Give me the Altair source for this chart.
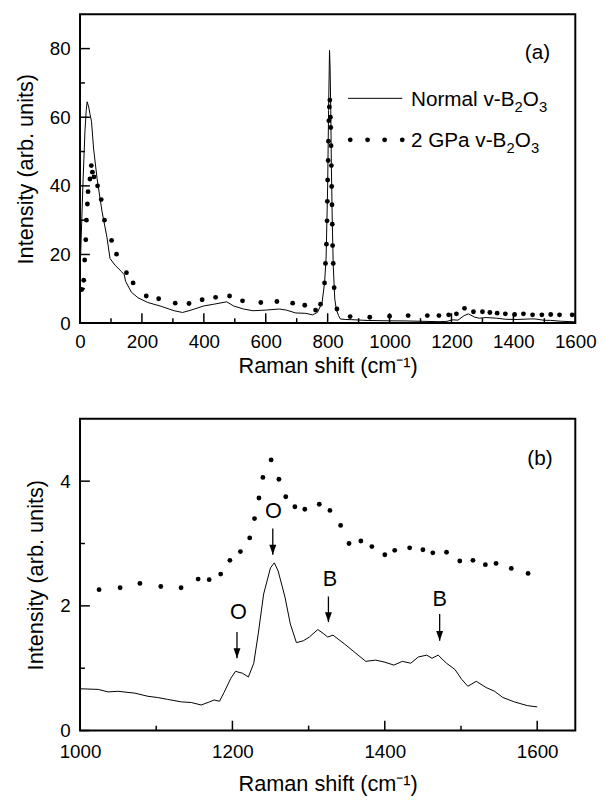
import altair as alt
import pandas as pd

FONT = "Liberation Sans"

# ---------------- Panel (a) data ----------------
a_normal_x = [2, 10, 16, 20, 23, 28, 32, 37, 44, 55, 71, 87, 97, 113, 134, 143, 147, 166, 187, 219,
              262, 304, 331, 352, 400, 432, 474, 496, 528, 559, 602, 644, 666, 697, 729, 751, 767, 782, 790, 795,
              800, 803, 806, 808, 810, 812, 815, 818, 823, 828, 835, 841, 857, 878, 931, 1000, 1050, 1100, 1160, 1185,
              1204, 1221, 1241, 1255, 1275, 1290, 1312, 1345, 1375, 1412, 1455, 1470, 1500, 1520, 1555, 1600]
a_normal_y = [20, 42, 56, 62, 64.5, 63, 61, 58.8, 50.7, 42.2, 32.6, 25, 18.8, 16.9, 15, 14.1, 12.2, 9.0, 7.4, 6.0,
              4.9, 3.6, 3.1, 3.6, 5.0, 5.5, 6.2, 5.0, 4.1, 3.6, 3.8, 4.1, 3.8, 2.95, 2.85, 2.4, 3.1, 6.0, 11.7, 19.3,
              40, 62, 79.5, 74, 62, 46, 29, 17, 7, 4, 2.2, 1.2, 1.05, 1.0, 0.76, 0.67, 0.63, 0.53, 0.42, 0.5,
              0.95, 0.86, 2.19, 2.69, 1.71, 1.43, 1.62, 1.44, 1.11, 1.05, 1.21, 1.21, 0.82, 0.79, 0.53, 0.38]

a_gpa_x = [5.7, 12, 15, 18.5, 20.6, 23.8, 25.9, 32, 36.5, 40, 45, 56.7, 68.5, 79, 102,
           118, 150, 171.5, 214, 254, 307.5, 352, 394.5, 438, 483, 525, 584, 636, 687, 726,
           761, 777, 790, 793, 796, 798, 799, 800, 801.5, 802.5, 804, 805.5, 807, 809, 810,
           811, 812, 813, 814, 815, 816, 818, 821, 830, 872.6, 936, 1000, 1060, 1122, 1159.5,
           1191, 1216, 1242, 1271, 1300, 1324, 1347.5, 1374, 1404, 1432.5, 1462, 1492, 1520.6, 1549, 1590]
a_gpa_y = [9.8, 12.5, 18.4, 24.3, 30, 34.7, 38.3, 42, 45.9, 44, 42.6, 40, 36, 30, 24.1,
           20.1, 14.7, 11.7, 7.9, 7.1, 5.8, 5.7, 6.8, 7.5, 7.9, 6.5, 6.0, 6.3, 5.8, 5.2,
           3.8, 5.5, 11.7, 17.4, 23, 29.8, 35.5, 41.7, 47.4, 53, 59, 63, 65, 60, 57,
           51.7, 45.9, 39.8, 34.5, 28.8, 22.6, 17.4, 10.3, 4.1, 1.9, 1.7, 2.0, 2.2, 2.2, 2.2,
           2.4, 2.7, 4.3, 3.3, 3.3, 3.1, 2.9, 2.7, 2.5, 2.7, 2.4, 2.4, 2.5, 2.4, 2.4]

a_x_labels = [0, 200, 400, 600, 800, 1000, 1200, 1400, 1600]
a_x_minor = [100, 300, 500, 700, 900, 1100, 1300, 1500]
a_y_labels = [0, 20, 40, 60, 80]
a_y_minor = [10, 30, 50, 70]

# legend of panel (a), in data units
leg_line_x = [866, 1041]
leg_line_y = [65.5, 65.5]
leg_dot_x = [873, 929, 984, 1041]
leg_dot_y = [53.4, 53.4, 53.4, 53.4]
leg_text_x = [1069, 1069]
leg_text_y = [63.3, 51.2]

# ---------------- Panel (b) data ----------------
b_normal_x = [1001, 1024, 1037, 1050, 1072, 1089, 1102, 1115, 1133, 1146, 1159, 1170, 1176, 1183, 1189,
              1198, 1204, 1213, 1221, 1228, 1234, 1241, 1250, 1255, 1260, 1269, 1276, 1284, 1293, 1301,
              1312, 1319, 1325, 1332, 1347, 1362, 1375, 1388, 1399, 1412, 1423, 1434, 1444, 1455, 1462,
              1470, 1481, 1492, 1501, 1509, 1520, 1533, 1544, 1555, 1570, 1587, 1600]
b_normal_y = [0.67, 0.66, 0.62, 0.63, 0.60, 0.55, 0.53, 0.50, 0.46, 0.45, 0.41, 0.46, 0.49, 0.47, 0.61,
              0.84, 0.95, 0.92, 0.86, 1.08, 1.56, 2.19, 2.61, 2.69, 2.56, 2.14, 1.71, 1.41, 1.44, 1.50,
              1.62, 1.56, 1.50, 1.53, 1.39, 1.24, 1.11, 1.13, 1.10, 1.05, 1.11, 1.08, 1.18, 1.21, 1.16,
              1.21, 1.08, 0.98, 0.82, 0.71, 0.79, 0.69, 0.63, 0.53, 0.46, 0.40, 0.38]

b_gpa_x = [1025, 1052.6, 1078.6, 1106, 1132.6, 1155, 1169.5, 1184.6, 1196.7, 1210.5,
           1222.7, 1229, 1234.8, 1240, 1250.8, 1261, 1270, 1282, 1295, 1314,
           1328, 1342, 1353, 1368.6, 1383, 1400, 1413, 1432.6, 1450, 1463,
           1481, 1498.4, 1515.7, 1532, 1546, 1566, 1588]
b_gpa_y = [2.26, 2.29, 2.36, 2.31, 2.29, 2.43, 2.42, 2.51, 2.73, 2.87,
           3.09, 3.40, 3.73, 4.06, 4.34, 4.03, 3.75, 3.59, 3.55, 3.63,
           3.53, 3.29, 3.0, 3.04, 2.95, 2.82, 2.89, 2.93, 2.90, 2.85,
           2.86, 2.72, 2.73, 2.66, 2.68, 2.60, 2.52]

b_x_labels = [1000, 1200, 1400, 1600]
b_x_minor = [1100, 1300, 1500]
b_y_labels = [0, 2, 4]
b_y_minor = [1, 3]

ann_text = ["O", "O", "B", "B"]
ann_text_x = [1208, 1254, 1328, 1472]
ann_text_y = [1.90, 3.52, 2.43, 2.11]
arrow_x = [1206, 1253, 1326, 1472]
arrow_top = [1.58, 3.24, 2.15, 1.87]
arrow_tip = [1.16, 2.82, 1.74, 1.44]

XTITLE = "Raman shift (cm\u207b\u00b9)"
YTITLE = "Intensity (arb. units)"


def make_panel(nx, ny, gx, gy, xdom, ydom, xlab, xmin, ylab, ymin, W, H, title_x,
               label_pad, title_pad, tag, tag_x, tag_y, extra_layers_fn):
    xs = alt.Scale(domain=xdom, nice=False, zero=False)
    ys = alt.Scale(domain=ydom, nice=False, zero=False)
    xaxis = alt.Axis(values=xlab, title=XTITLE, grid=False, ticks=False, tickSize=0, domain=False,
                     labelFont=FONT, titleFont=FONT, labelFontSize=19, titleFontSize=22,
                     titleFontWeight="normal", labelColor="black", titleColor="black",
                     labelPadding=label_pad, titlePadding=title_pad, labelFlush=False,
                     labelOverlap=False, format="d")
    yaxis = alt.Axis(values=ylab, title=YTITLE, grid=False, ticks=False, tickSize=0, domain=False,
                     labelFont=FONT, titleFont=FONT, labelFontSize=19, titleFontSize=22,
                     titleFontWeight="normal", labelColor="black", titleColor="black",
                     labelPadding=10, titleX=title_x, titleBaseline="alphabetic",
                     labelFlush=False, labelOverlap=False, format="d")

    def X():
        return alt.X("x:Q", scale=xs, axis=xaxis)

    def Y():
        return alt.Y("y:Q", scale=ys, axis=yaxis)

    df_n = pd.DataFrame({"x": nx, "y": ny})
    df_g = pd.DataFrame({"x": gx, "y": gy})

    line = alt.Chart(df_n).mark_line(color="black", strokeWidth=1).encode(x=X(), y=Y())
    dots = alt.Chart(df_g).mark_circle(color="black", size=24, opacity=1).encode(x=X(), y=Y())

    xmaj = alt.Chart(pd.DataFrame({"x": xlab})).mark_rule(color="black", strokeWidth=1.5).encode(
        x=X(), y=alt.value(H), y2=alt.value(H - 10))
    xmn = alt.Chart(pd.DataFrame({"x": xmin})).mark_rule(color="black", strokeWidth=1.5).encode(
        x=X(), y=alt.value(H), y2=alt.value(H - 5))
    ymaj = alt.Chart(pd.DataFrame({"y": ylab})).mark_rule(color="black", strokeWidth=1.5).encode(
        y=Y(), x=alt.value(0), x2=alt.value(10))
    ymn = alt.Chart(pd.DataFrame({"y": ymin})).mark_rule(color="black", strokeWidth=1.5).encode(
        y=Y(), x=alt.value(0), x2=alt.value(5))

    frame = alt.Chart(pd.DataFrame({"k": [0]})).mark_rect(
        fillOpacity=0, stroke="black", strokeWidth=2).encode(
        x=alt.value(0), x2=alt.value(W), y=alt.value(0), y2=alt.value(H))

    tagc = alt.Chart(pd.DataFrame({"x": [tag_x], "y": [tag_y], "t": [tag]})).mark_text(
        font=FONT, fontSize=21, color="black", align="center", baseline="middle").encode(
        x=X(), y=Y(), text="t:N")

    layers = [line, dots, xmaj, xmn, ymaj, ymn, tagc] + extra_layers_fn(X, Y) + [frame]
    return alt.layer(*layers).properties(width=W, height=H)


def legend_layers(X, Y):
    out = []
    out.append(alt.Chart(pd.DataFrame({"x": leg_line_x, "y": leg_line_y})).mark_line(
        color="black", strokeWidth=1).encode(x=X(), y=Y()))
    out.append(alt.Chart(pd.DataFrame({"x": leg_dot_x, "y": leg_dot_y})).mark_circle(
        color="black", size=24, opacity=1).encode(x=X(), y=Y()))
    # text fragments (main text + subscripts)
    frags = [
        (0, "Normal v-B", 0, 21, 0), (0, "2", 105.0, 15, 6), (0, "O", 113.3, 21, 0), (0, "3", 129.7, 15, 6),
        (1, "2 GPa v-B", 0, 21, 0), (1, "2", 96.9, 15, 6), (1, "O", 105.2, 21, 0), (1, "3", 121.6, 15, 6),
    ]
    for row, txt, dx, fs, dy in frags:
        df = pd.DataFrame({"x": [leg_text_x[row]], "y": [leg_text_y[row]], "t": [txt]})
        out.append(alt.Chart(df).mark_text(font=FONT, fontSize=fs, color="black", align="left",
                                           baseline="alphabetic", dx=dx, dy=dy).encode(
            x=X(), y=Y(), text="t:N"))
    return out


def arrow_layers(X, Y):
    df_t = pd.DataFrame({"x": ann_text_x, "y": ann_text_y, "t": ann_text})
    df_a = pd.DataFrame({"x": arrow_x, "y": arrow_top, "y2": arrow_tip})
    df_h = pd.DataFrame({"x": arrow_x, "y": arrow_tip})
    txt = alt.Chart(df_t).mark_text(font=FONT, fontSize=22, color="black", align="center",
                                    baseline="middle").encode(x=X(), y=Y(), text="t:N")
    shaft = alt.Chart(df_a).mark_rule(color="black", strokeWidth=1.3).encode(x=X(), y=Y(), y2="y2:Q")
    head = alt.Chart(df_h).mark_point(shape="M-0.7,-2L0.7,-2L0,0Z", size=100, filled=True,
                                      color="black", opacity=1, strokeWidth=0).encode(x=X(), y=Y())
    return [txt, shaft, head]


panel_a = make_panel(a_normal_x, a_normal_y, a_gpa_x, a_gpa_y, [0, 1600], [0, 90],
                     a_x_labels, a_x_minor, a_y_labels, a_y_minor, 502, 313, -48, 10, 4,
                     "(a)", 1478, 78.8, legend_layers)
panel_b = make_panel(b_normal_x, b_normal_y, b_gpa_x, b_gpa_y, [1000, 1650], [0, 5],
                     b_x_labels, b_x_minor, b_y_labels, b_y_minor, 502, 316, -38, 12, 13,
                     "(b)", 1603.6, 4.35, arrow_layers)

chart = alt.vconcat(panel_a, panel_b, spacing=97, bounds="flush").properties(
    padding={"left": 7, "top": 0, "right": 0, "bottom": 0},
    background="white",
).configure_view(strokeWidth=0)

chart.save("out.html", embed_options={"renderer": "svg", "actions": False})
